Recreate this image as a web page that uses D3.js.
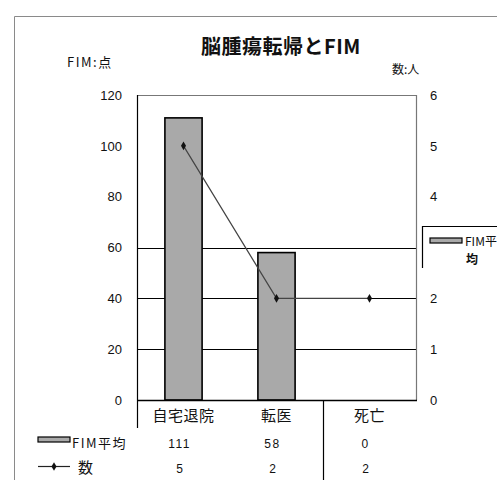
<!DOCTYPE html>
<html>
<head>
<meta charset="utf-8">
<script src="https://cdn.jsdelivr.net/npm/d3@7"></script>
<style>
  html, body { margin: 0; padding: 0; background: #fff; }
  svg { display: block; }
  text { font-family: "Noto Sans CJK JP", "DejaVu Sans", sans-serif; fill: #111; }
</style>
</head>
<body>
<svg id="chart" width="497" height="480"></svg>
<script>
// Outcome categories and the two series
const categories = ["自宅退院", "転医", "死亡"];
const fimMean = [111, 58, 0];      // FIM平均 (点)
const counts = [5, 2, 2];          // 数 (人)
const leftTicks = [0, 20, 40, 60, 80, 100, 120];
const rightTicks = [0, 1, 2, 3, 4, 5, 6];
const gridValues = [20, 40, 60];

const svg = d3.select("#chart");
const numFont = "'Liberation Sans', Arial, sans-serif";

// Plot area
const plot = { left: 137, right: 416, top: 95, bottom: 400 };

const x = d3.scaleBand().domain(categories).range([plot.left, plot.right]).padding(0);
const yL = d3.scaleLinear().domain([0, 120]).range([plot.bottom, plot.top]);
const yR = d3.scaleLinear().domain([0, 6]).range([plot.bottom, plot.top]);

// Outer chart frame
svg.append("path")
  .attr("d", "M14.5,480 V16.5 H497")
  .attr("fill", "none").attr("stroke", "#8a8a8a").attr("stroke-width", 1);

// Title and axis captions
svg.append("text").attr("x", 281).attr("y", 54).attr("text-anchor", "middle")
  .style("font-size", "20px").style("font-weight", "bold").style("letter-spacing", "0.5px")
  .text("脳腫瘍転帰とFIM");
svg.append("text").attr("x", 67).attr("y", 67).style("font-size", "13px")
  .style("letter-spacing", "1.5px").text("FIM:点");
svg.append("text").attr("x", 392).attr("y", 74).style("font-size", "12px").text("数:人");

// Gridlines
svg.append("g").selectAll("line").data(gridValues).join("line")
  .attr("x1", plot.left).attr("x2", plot.right)
  .attr("y1", d => Math.round(yL(d)) + 0.5).attr("y2", d => Math.round(yL(d)) + 0.5)
  .attr("stroke", "#000").attr("stroke-width", 1);

// Plot border (top and right)
svg.append("path")
  .attr("d", `M${plot.left},${plot.top + 0.5} H${plot.right + 0.5} V${plot.bottom}`)
  .attr("fill", "none").attr("stroke", "#777").attr("stroke-width", 1.2);

// Bars
const barW = x.bandwidth() * 0.4;
svg.append("g").selectAll("rect").data(categories).join("rect")
  .attr("x", (d) => x(d) + (x.bandwidth() - barW) / 2)
  .attr("y", (d, i) => yL(fimMean[i]))
  .attr("width", barW)
  .attr("height", (d, i) => yL(0) - yL(fimMean[i]))
  .attr("fill", "#a9a9a9").attr("stroke", "#000").attr("stroke-width", 1.6)
  .style("display", (d, i) => fimMean[i] > 0 ? null : "none");

// Count line with diamond markers
const cx = (d, i) => x(categories[i]) + x.bandwidth() / 2;
const line = d3.line().x((d, i) => cx(d, i)).y(d => yR(d));
svg.append("path").datum(counts).attr("d", line)
  .attr("fill", "none").attr("stroke", "#444").attr("stroke-width", 1.2);
const diamond = d3.symbol().type(d3.symbolDiamond).size(22);
svg.append("g").selectAll("path").data(counts).join("path")
  .attr("transform", (d, i) => `translate(${cx(d, i)},${yR(d)})`)
  .attr("d", diamond).attr("fill", "#111");

// Left value axis
const axL = svg.append("g").attr("transform", `translate(${plot.left},0)`)
  .call(d3.axisLeft(yL).tickValues(leftTicks).tickSize(0).tickPadding(15));
axL.select(".domain").remove();
axL.selectAll("text").style("font-size", "13px").style("font-family", numFont).attr("fill", "#111");

// Right value axis
const axR = svg.append("g").attr("transform", `translate(${plot.right},0)`)
  .call(d3.axisRight(yR).tickValues(rightTicks).tickFormat(d3.format("d")).tickSize(0).tickPadding(14));
axR.select(".domain").remove();
axR.selectAll("text").style("font-size", "13px").style("font-family", numFont).attr("fill", "#111");

// Left axis line, extended into the data table
svg.append("line").attr("x1", plot.left + 0.5).attr("x2", plot.left + 0.5)
  .attr("y1", plot.top).attr("y2", 428).attr("stroke", "#000").attr("stroke-width", 1.2);
// Category axis line
svg.append("line").attr("x1", plot.left).attr("x2", plot.right + 1)
  .attr("y1", plot.bottom + 0.5).attr("y2", plot.bottom + 0.5)
  .attr("stroke", "#000").attr("stroke-width", 1.4);
// Table column divider
svg.append("line").attr("x1", x(categories[2]) + 0.5).attr("x2", x(categories[2]) + 0.5)
  .attr("y1", plot.bottom).attr("y2", 480).attr("stroke", "#000").attr("stroke-width", 1.2);

// Category labels
svg.append("g").selectAll("text").data(categories).join("text")
  .attr("x", d => x(d) + x.bandwidth() / 2).attr("y", 421)
  .attr("text-anchor", "middle").style("font-size", "15px").style("letter-spacing", "0.5px")
  .text(d => d);

// Data table rows
svg.append("g").selectAll("text").data(fimMean).join("text")
  .attr("x", (d, i) => cx(d, i) - 4).attr("y", 448)
  .attr("text-anchor", "middle").style("font-size", "12px").style("letter-spacing", "1.5px")
  .style("font-family", numFont).text(d => d);
svg.append("g").selectAll("text").data(counts).join("text")
  .attr("x", (d, i) => cx(d, i) - 4).attr("y", 473)
  .attr("text-anchor", "middle").style("font-size", "12px")
  .style("font-family", numFont).text(d => d);

// Table legend keys
svg.append("rect").attr("x", 38).attr("y", 437).attr("width", 32).attr("height", 5)
  .attr("fill", "#a9a9a9").attr("stroke", "#000").attr("stroke-width", 1.2);
svg.append("text").attr("x", 72).attr("y", 448).style("font-size", "13px")
  .style("letter-spacing", "1.5px").text("FIM平均");
svg.append("line").attr("x1", 38).attr("x2", 70).attr("y1", 466.5).attr("y2", 466.5)
  .attr("stroke", "#222").attr("stroke-width", 1.2);
svg.append("path").attr("transform", "translate(54,466.5)").attr("d", diamond).attr("fill", "#111");
svg.append("text").attr("x", 78).attr("y", 473).style("font-size", "15px").text("数");

// Side legend (opaque box over the right axis)
svg.append("rect").attr("x", 422.5).attr("y", 226.5).attr("width", 80).attr("height", 42)
  .attr("fill", "#fff");
svg.append("path").attr("d", "M422.5,268 V226.5 H497")
  .attr("fill", "none").attr("stroke", "#000").attr("stroke-width", 1.2);
svg.append("rect").attr("x", 430).attr("y", 238).attr("width", 32).attr("height", 5)
  .attr("fill", "#a9a9a9").attr("stroke", "#000").attr("stroke-width", 1.2);
svg.append("text").attr("x", 465).attr("y", 246).style("font-size", "12px").text("FIM平");
svg.append("text").attr("x", 466).attr("y", 264).style("font-size", "12px").style("font-weight", "bold").text("均");
</script>
</body>
</html>
